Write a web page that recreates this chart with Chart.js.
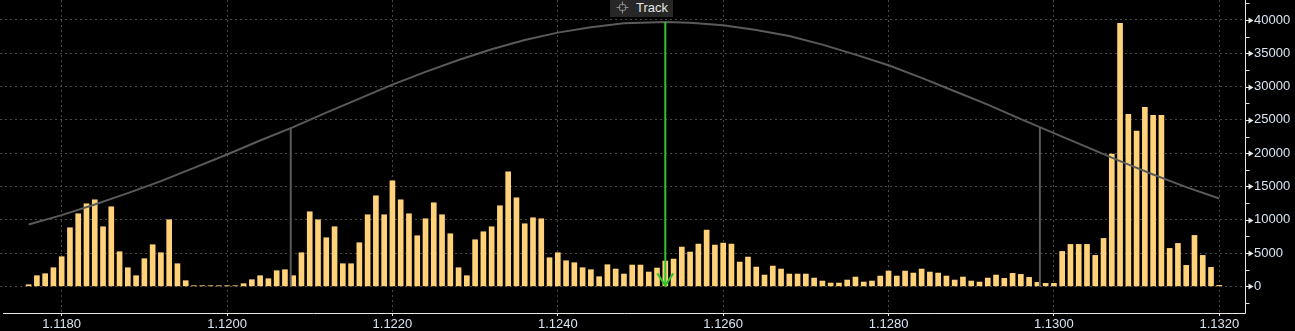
<!DOCTYPE html>
<html>
<head>
<meta charset="utf-8">
<script src="https://cdn.jsdelivr.net/npm/chart.js@4/dist/chart.umd.min.js"></script>
<style>
    body { margin: 0; background: #000; }
    #wrap { position: relative; width: 1295px; height: 331px; }
    #track {
        position: absolute; left: 610px; top: 0; width: 63px; height: 17px;
        background: #272727; color: #e6e6e6;
        font: 13px "Liberation Sans", sans-serif; line-height: 15px;
    }
    #track svg { position: absolute; left: 6px; top: 1px; }
    #track span { position: absolute; left: 26px; top: 0; }
</style>
</head>
<body>
<div id="wrap">
    <canvas id="myChart"></canvas>
    <div id="track">
        <svg width="13" height="13" viewBox="0 0 13 13">
            <circle cx="6.5" cy="6.5" r="3.5" fill="none" stroke="#8c8c8c" stroke-width="1"/>
            <path d="M6.5 0.5V4.5M6.5 8.5V12.5M0.5 6.5H4.5M8.5 6.5H12.5" stroke="#8c8c8c" stroke-width="1"/>
        </svg>
        <span>Track</span>
    </div>
</div>
<script>
// Volume per price level, 1.1176 .. 1.1320 step 0.0001
const firstPrice = 1.1176;
const priceStep = 0.0001;
const volumes = [
    250, 1600, 1900, 2800, 4450, 8800, 10900, 12400, 13000, 8950,
    11950, 5200, 2800, 1600, 4150, 6250, 5050, 10000, 3400, 850,
    100, 100, 100, 100, 100, 100, 400, 1000, 1600, 1150,
    2350, 2500, 1600, 5050, 11200, 10000, 7300, 8950, 3400, 3400,
    6550, 10750, 13600, 10750, 15850, 13000, 10900, 7600, 10150, 12550,
    10750, 7900, 2800, 1600, 7000, 8200, 8950, 12100, 17200, 13300,
    9400, 10300, 10150, 4300, 5050, 3850, 3550, 2800, 2500, 1450,
    3250, 2600, 1850, 3200, 3200, 2150, 2750, 3800, 4100, 5900,
    5150, 6350, 8450, 6200, 6500, 6350, 3650, 4400, 2900, 1700,
    3050, 2600, 1850, 1850, 1850, 1250, 800, 500, 500, 950,
    1400, 650, 800, 1550, 2300, 1550, 2300, 2000, 2600, 2150,
    2000, 1550, 950, 1400, 800, 650, 1250, 1700, 1200, 1950,
    1800, 1350, 600, 450, 450, 5250, 6300, 6300, 6300, 4650,
    7200, 19850, 39500, 25850, 23300, 26900, 25700, 25700, 5700, 6450,
    3150, 7650, 4650, 2850, 150
];
const prices = volumes.map((v, i) => +(firstPrice + i * priceStep).toFixed(4));

// Gray distribution curve
const curvePrices = [
    1.1176, 1.1180, 1.1184, 1.1188, 1.1192, 1.1196, 1.1200, 1.1204, 1.1208, 1.1212,
    1.1216, 1.1220, 1.1224, 1.1228, 1.1232, 1.1236, 1.1240, 1.1244, 1.1248, 1.1253,
    1.1256, 1.1260, 1.1264, 1.1268, 1.1272, 1.1276, 1.1280, 1.1284, 1.1288, 1.1292,
    1.1296, 1.1300, 1.1304, 1.1308, 1.1312, 1.1316, 1.1320
];
const curveValues = [
    9300, 10700, 12300, 14000, 15800, 17800, 19800, 21900, 23900, 26100,
    28200, 30300, 32200, 34000, 35600, 37000, 38100, 38900, 39500, 39700,
    39600, 39200, 38500, 37600, 36300, 34800, 33200, 31300, 29300, 27300,
    25100, 23000, 20900, 18800, 16800, 14900, 13200
];

// Band markers and track arrow
const bandLow = 1.12077;
const bandHigh = 1.12983;
const bandTop = 23800;
const arrowPrice = 1.1253;
const arrowTop = 39700;

// Axes
const xTicks = [1.1180, 1.1200, 1.1220, 1.1240, 1.1260, 1.1280, 1.1300, 1.1320];
const yTicks = [];
for (let v = -2500; v <= 42500; v += 2500) yTicks.push(v);

const barColor = '#ffd27a';
const lineGray = '#5a5a5a';
const gridGray = '#4a4a4a';
const axisColor = '#e8e8e8';
const labelColor = '#d8e6f4';
const arrowColor = '#2fc22f';

const overlay = {
    id: 'overlay',
    afterDatasetsDraw(chart) {
        const { ctx, scales: { x, y } } = chart;
        const ax = x.getPixelForValue(arrowPrice);
        const ay = y.getPixelForValue(0);
        ctx.save();
        ctx.strokeStyle = arrowColor;
        ctx.lineWidth = 2;
        ctx.beginPath();
        ctx.moveTo(ax - 8, ay - 13);
        ctx.lineTo(ax, ay - 1);
        ctx.lineTo(ax + 8, ay - 13);
        ctx.stroke();
        ctx.restore();
    },
    afterDraw(chart) {
        const { ctx, chartArea, scales: { y } } = chart;
        const x0 = Math.round(y.left) + 0.5;
        const yb = Math.round(chartArea.bottom) + 0.5;
        ctx.save();
        ctx.strokeStyle = axisColor;
        ctx.fillStyle = axisColor;
        ctx.lineWidth = 1;
        // solid axis lines
        ctx.beginPath();
        ctx.moveTo(3, yb);
        ctx.lineTo(x0, yb);
        ctx.moveTo(x0, 0);
        ctx.lineTo(x0, yb);
        ctx.stroke();
        yTicks.forEach(v => {
            const py = Math.round(y.getPixelForValue(v)) + 0.5;
            ctx.beginPath();
            ctx.moveTo(x0, py);
            ctx.lineTo(x0 + 4, py);
            ctx.stroke();
            if (v >= 0 && v % 5000 === 0) {
                ctx.beginPath();
                ctx.moveTo(x0 + 3, py - 3);
                ctx.lineTo(x0 + 8, py);
                ctx.lineTo(x0 + 3, py + 3);
                ctx.closePath();
                ctx.fill();
            }
        });
        ctx.restore();
    }
};

const tickFont = { family: '"Liberation Sans", sans-serif', size: 13 };

new Chart(document.getElementById('myChart'), {
    data: {
        datasets: [
            {
                type: 'line',
                data: curvePrices.map((p, i) => ({ x: p, y: curveValues[i] })),
                borderColor: lineGray,
                borderWidth: 2,
                pointRadius: 0,
                tension: 0,
                order: 1
            },
            {
                type: 'line',
                data: [{ x: bandLow, y: 0 }, { x: bandLow, y: bandTop }],
                borderColor: lineGray,
                borderWidth: 2,
                pointRadius: 0,
                order: 2
            },
            {
                type: 'line',
                data: [{ x: bandHigh, y: 0 }, { x: bandHigh, y: bandTop }],
                borderColor: lineGray,
                borderWidth: 2,
                pointRadius: 0,
                order: 2
            },
            {
                type: 'line',
                data: [{ x: arrowPrice, y: arrowTop }, { x: arrowPrice, y: 0 }],
                borderColor: arrowColor,
                borderWidth: 2,
                pointRadius: 0,
                order: 0
            },
            {
                type: 'bar',
                data: prices.map((p, i) => ({ x: p, y: volumes[i] })),
                backgroundColor: barColor,
                barThickness: 5,
                order: 3
            }
        ]
    },
    options: {
        responsive: true,
        maintainAspectRatio: false,
        animation: false,
        layout: { padding: 0, autoPadding: false },
        plugins: {
            legend: { display: false },
            tooltip: { enabled: false }
        },
        scales: {
            x: {
                type: 'linear',
                position: 'bottom',
                offset: false,
                min: 1.117254,
                max: 1.132311,
                afterBuildTicks: s => { s.ticks = xTicks.map(v => ({ value: v })); },
                afterFit: s => { s.height = 18; s.paddingLeft = 0; s.paddingRight = 0; },
                ticks: {
                    color: labelColor,
                    font: tickFont,
                    padding: 1,
                    maxRotation: 0,
                    autoSkip: false,
                    callback: v => v.toFixed(4)
                },
                grid: {
                    offset: false,
                    color: gridGray,
                    tickColor: axisColor,
                    tickLength: 3
                },
                border: { display: false, dash: [2, 3] }
            },
            y: {
                type: 'linear',
                position: 'right',
                min: -4000,
                max: 43000,
                afterBuildTicks: s => { s.ticks = yTicks.map(v => ({ value: v })); },
                afterFit: s => { s.width = 50; s.paddingTop = 0; s.paddingBottom = 0; },
                ticks: {
                    color: labelColor,
                    font: tickFont,
                    padding: 9,
                    autoSkip: false,
                    callback: v => (v >= 0 && v % 5000 === 0) ? String(v) : ''
                },
                grid: {
                    color: c => (c.tick && c.tick.value >= 0 && c.tick.value % 5000 === 0) ? gridGray : 'transparent',
                    drawTicks: false
                },
                border: { display: false, dash: [2, 3] }
            }
        }
    },
    plugins: [overlay]
});
</script>
</body>
</html>
